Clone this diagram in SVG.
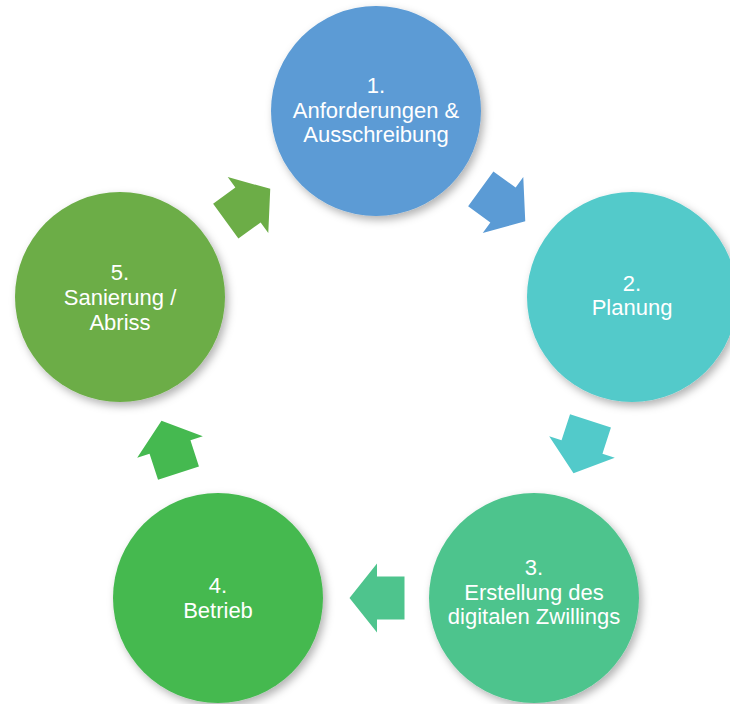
<svg xmlns="http://www.w3.org/2000/svg" width="730" height="704" viewBox="0 0 730 704">
<defs>
<filter id="sh" x="-20%" y="-20%" width="150%" height="150%">
<feDropShadow dx="3" dy="4" stdDeviation="4" flood-color="#000" flood-opacity="0.3"/>
</filter>
<path id="arr" d="M-27.5,-21.5 L0,-21.5 L0,-34.5 L27.5,0 L0,34.5 L0,21.5 L-27.5,21.5 Z"/>
</defs>
<style>
text{font-family:"Liberation Sans",Arial,sans-serif;font-size:22px;fill:#fff;text-anchor:middle}
</style>
<rect width="730" height="704" fill="#fff"/>
<g id="connectors">
<use href="#arr" fill="#5B9BD5" transform="translate(503,205) rotate(36)"/>
<use href="#arr" fill="#52CACA" transform="translate(582,447) rotate(108)"/>
<use href="#arr" fill="#4EC48D" transform="translate(377,598) rotate(180)"/>
<use href="#arr" fill="#45B950" transform="translate(170,447) rotate(252)"/>
<use href="#arr" fill="#6CAD47" transform="translate(248,205) rotate(324)"/>
</g>
<g id="n1">
<circle cx="376" cy="111" r="105" fill="#5B9BD5" filter="url(#sh)"/>
<text x="376" y="93">1.</text>
<text x="376" y="118">Anforderungen &amp;</text>
<text x="376" y="142">Ausschreibung</text>
</g>
<g id="n2">
<circle cx="632" cy="297" r="105" fill="#52CACA" filter="url(#sh)"/>
<text x="632" y="291">2.</text>
<text x="632" y="315">Planung</text>
</g>
<g id="n3">
<circle cx="534" cy="598" r="105" fill="#4EC48D" filter="url(#sh)"/>
<text x="534" y="575">3.</text>
<text x="534" y="600">Erstellung des</text>
<text x="534" y="624">digitalen Zwillings</text>
</g>
<g id="n4">
<circle cx="218" cy="598" r="105" fill="#45B950" filter="url(#sh)"/>
<text x="218" y="593">4.</text>
<text x="218" y="618">Betrieb</text>
</g>
<g id="n5">
<circle cx="120" cy="297" r="105" fill="#6CAD47" filter="url(#sh)"/>
<text x="120" y="280">5.</text>
<text x="120" y="305">Sanierung /</text>
<text x="120" y="330">Abriss</text>
</g>
</svg>
